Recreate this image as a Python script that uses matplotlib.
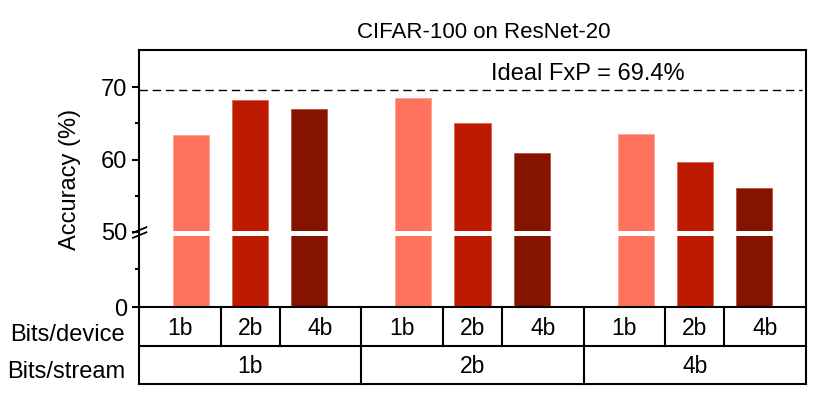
import numpy as np
import matplotlib
matplotlib.use("Agg")
import matplotlib.pyplot as plt
from matplotlib.lines import Line2D

plt.rcParams['font.family'] = ['Liberation Sans', 'DejaVu Sans']

# data
stream_bits = ['1b', '2b', '4b']
device_bits = ['1b', '2b', '4b']
accuracy = [
    [63.4, 68.3, 67.0],   # 1b/stream
    [68.5, 65.0, 60.9],   # 2b/stream
    [63.6, 59.7, 56.0],   # 4b/stream
]
ideal_line = 69.7
ideal_text = 'Ideal FxP = 69.4%'
colors = ['#FF735C', '#BE1A00', '#861200']
edges = ['#FFA090', '#E06050', '#B05040']

# broken axis: 0-50 squeezed, 50-75 stretched
k = 0.2094
brk = 50.0


def fwd(y):
    y = np.asarray(y, dtype=float)
    return np.where(y <= brk, y * k, brk * k + (y - brk))


def inv(u):
    u = np.asarray(u, dtype=float)
    return np.where(u <= brk * k, u / k, u - brk * k + brk)


fig = plt.figure(figsize=(8.31, 4.0), dpi=100)
ax = fig.add_axes([0.1673, 0.2325, 0.8026, 0.6425])
ax.set_yscale('function', functions=(fwd, inv))

offs = [-0.8, 0.0, 0.8]
for g in range(3):
    for d in range(3):
        ax.bar(g * 3 + 1.5 + offs[d], accuracy[g][d], width=0.486,
               color=colors[d], edgecolor=edges[d], linewidth=0.6, zorder=2)

ax.set_xlim(0, 9)
ax.set_ylim(0, 75.2)
ax.set_yticks([0, 50, 60, 70])
ax.set_yticks([25, 55, 65], minor=True)
ax.set_xticks([])
ax.tick_params(axis='y', which='major', labelsize=17, length=5, width=1.5,
               direction='out')
ax.tick_params(axis='y', which='minor', length=3, width=1.5, direction='out')
for s in ax.spines.values():
    s.set_linewidth(1.5)

# white gap through the bars
u50 = brk * k
ax.axhspan(float(inv(u50 - 0.64)), float(inv(u50 + 0.08)), color='white',
           lw=0, zorder=2.2)

# break marks on the left spine
yt = ax.get_yaxis_transform()
for du in (0.0, -0.7):
    ax.add_line(Line2D([-0.009, 0.011],
                       [float(inv(u50 - 0.17 + du)), float(inv(u50 + 0.6 + du))],
                       transform=yt, color='black', lw=1.3, clip_on=False,
                       zorder=5))

# ideal line
ax.hlines(ideal_line, 0, 8.94, colors='black', linestyles=(0, (6, 3.5)),
          lw=1.0, zorder=3)
ax.text(6.06, 71.0, ideal_text, ha='center', va='baseline', fontsize=17)

ax.text(-0.1034, 0.496, 'Accuracy (%)', transform=ax.transAxes, rotation=90,
        ha='center', va='center', fontsize=17)
fig.text(0.5824, 0.905, 'CIFAR-100 on ResNet-20', ha='center', va='baseline',
         fontsize=16)

# category table under the axis
xt = ax.get_xaxis_transform()
r1, r2 = -0.152, -0.30
lw = 1.5


def seg(xs, ys):
    ax.add_line(Line2D(xs, ys, transform=xt, color='black', lw=lw,
                       clip_on=False, solid_capstyle='projecting'))


seg([0, 9], [r1, r1])
seg([0, 9], [r2, r2])
for xv in (0, 3, 6, 9):
    seg([xv, xv], [0, r2])
for g in range(3):
    for b in (1.1, 1.9):
        seg([g * 3 + b, g * 3 + b], [0, r1])
    cells = [g * 3 + 0.55, g * 3 + 1.5, g * 3 + 2.45]
    for d in range(3):
        ax.text(cells[d], -0.109, device_bits[d], transform=xt, ha='center',
                va='baseline', fontsize=16.5)
    ax.text(g * 3 + 1.5, -0.257, stream_bits[g], transform=xt, ha='center',
            va='baseline', fontsize=16.5)

ax.text(-0.021, -0.132, 'Bits/device', transform=ax.transAxes, ha='right',
        va='baseline', fontsize=17)
ax.text(-0.021, -0.275, 'Bits/stream', transform=ax.transAxes, ha='right',
        va='baseline', fontsize=17)

fig.savefig('out.png', dpi=100)
